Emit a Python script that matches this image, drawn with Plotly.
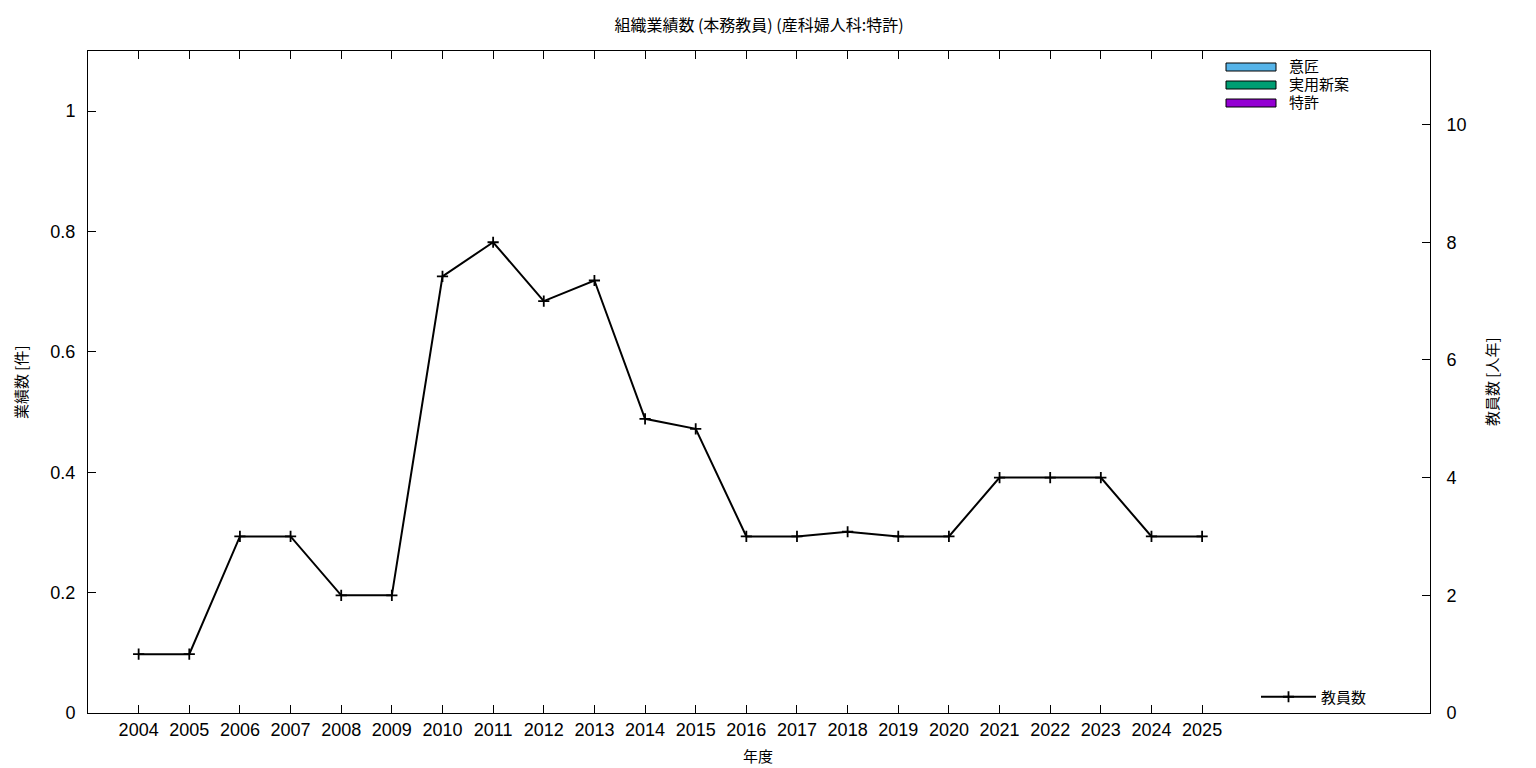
import plotly.graph_objects as go

years = list(range(2004, 2026))
patent = [0] * len(years)        # 特許
utility = [0] * len(years)       # 実用新案
design = [0] * len(years)        # 意匠
staff = [1, 1, 3, 3, 2, 2, 7.42, 8, 7, 7.35, 5, 4.83, 3, 3, 3.08, 3, 3, 4, 4, 4, 3, 3]

bar_names = ["特許", "実用新案", "意匠"]
bar_colors = ["#9400d3", "#009e73", "#56b4e9"]
left_ticks = [0, 0.2, 0.4, 0.6, 0.8, 1]
right_ticks = [0, 2, 4, 6, 8, 10]

FONT = "Noto Sans CJK JP"
NUMFONT = "Liberation Sans"
OFF = 8  # default page body margin
W, H = 1536 - OFF, 768 - OFF
# plot area in screen pixels
SL, SR, ST, SB = 88, 1430, 51, 713
L, R, T, B = SL - OFF, SR - OFF, ST - OFF, SB - OFF
PW, PH = R - L, B - T

def px(x):
    return (x - SL) / PW

def py(y):
    return (SB - y) / PH

fig = go.Figure()

for name, vals, col in zip(bar_names, [patent, utility, design], bar_colors):
    fig.add_trace(go.Bar(x=years, y=vals, name=name, marker=dict(color=col, line=dict(width=0)),
                         showlegend=False, yaxis="y"))

fig.add_trace(go.Scatter(x=years, y=staff, name="教員数", yaxis="y2", mode="lines+markers",
                         line=dict(color="black", width=2),
                         marker=dict(symbol="cross-thin", size=8, line=dict(color="black", width=1.8)),
                         legend="legend2"))

# manual legend for the bar series (wide boxes like the original)
legend_items = [("意匠", "#56b4e9"), ("実用新案", "#009e73"), ("特許", "#9400d3")]
for i, (lab, col) in enumerate(legend_items):
    yc = 67 + i * 18
    fig.add_shape(type="rect", xref="paper", yref="paper",
                  x0=px(1226), x1=px(1276), y0=py(yc - 4), y1=py(yc + 4),
                  fillcolor=col, line=dict(color="black", width=1))
    fig.add_annotation(xref="paper", yref="paper", x=px(1287), y=py(yc - 1),
                       text=lab, showarrow=False, xanchor="left", yanchor="middle",
                       font=dict(family=FONT, size=15, color="black"))

# axis titles
fig.add_annotation(xref="paper", yref="paper", x=px(758), y=py(755), text="年度", showarrow=False,
                   xanchor="center", yanchor="middle", font=dict(family=FONT, size=15, color="black"))
fig.add_annotation(xref="paper", yref="paper", x=px(20), y=py(382), text="業績数 [件]", showarrow=False,
                   textangle=-90, xanchor="center", yanchor="middle",
                   font=dict(family=FONT, size=15, color="black"))
fig.add_annotation(xref="paper", yref="paper", x=px(1491), y=py(382), text="教員数 [人年]", showarrow=False,
                   textangle=-90, xanchor="center", yanchor="middle",
                   font=dict(family=FONT, size=15, color="black"))

fig.update_layout(
    width=W, height=H,
    margin=dict(l=L, r=W - R, t=T, b=H - B, autoexpand=False),
    plot_bgcolor="white", paper_bgcolor="white",
    barmode="stack",
    font=dict(family=FONT, size=17, color="black"),
    title=dict(text="組織業績数 (本務教員) (産科婦人科:特許)", x=(759 - OFF) / W, xanchor="center",
               y=1 - (25 - OFF) / H, yanchor="middle", font=dict(family=FONT, size=16, color="black")),
    xaxis=dict(range=[2003, 2029.5], tickvals=years, ticktext=[str(y) for y in years],
               ticks="inside", ticklen=8, tickcolor="black", showline=True, linecolor="black",
               linewidth=1, mirror="ticks", showgrid=False, zeroline=False, automargin=False,
               tickfont=dict(family=NUMFONT, size=18, color="black")),
    yaxis=dict(range=[0, 1.1], tickvals=left_ticks, ticks="inside", ticklen=8, tickcolor="black",
               showline=True, linecolor="black", linewidth=1, mirror=True, showgrid=False,
               zeroline=False, automargin=False, ticklabelstandoff=8,
               tickfont=dict(family=NUMFONT, size=18, color="black")),
    yaxis2=dict(range=[0, 11.25], tickvals=right_ticks, overlaying="y", side="right",
                ticks="inside", ticklen=8, tickcolor="black", showline=True, linecolor="black",
                linewidth=1, showgrid=False, zeroline=False, automargin=False, ticklabelstandoff=12,
                tickfont=dict(family=NUMFONT, size=18, color="black")),
    legend2=dict(x=px(1372), y=py(697), xanchor="right", yanchor="middle",
                 bgcolor="rgba(0,0,0,0)", font=dict(family=FONT, size=15, color="black"),
                 itemwidth=55),
)

fig.write_html("out.html")
